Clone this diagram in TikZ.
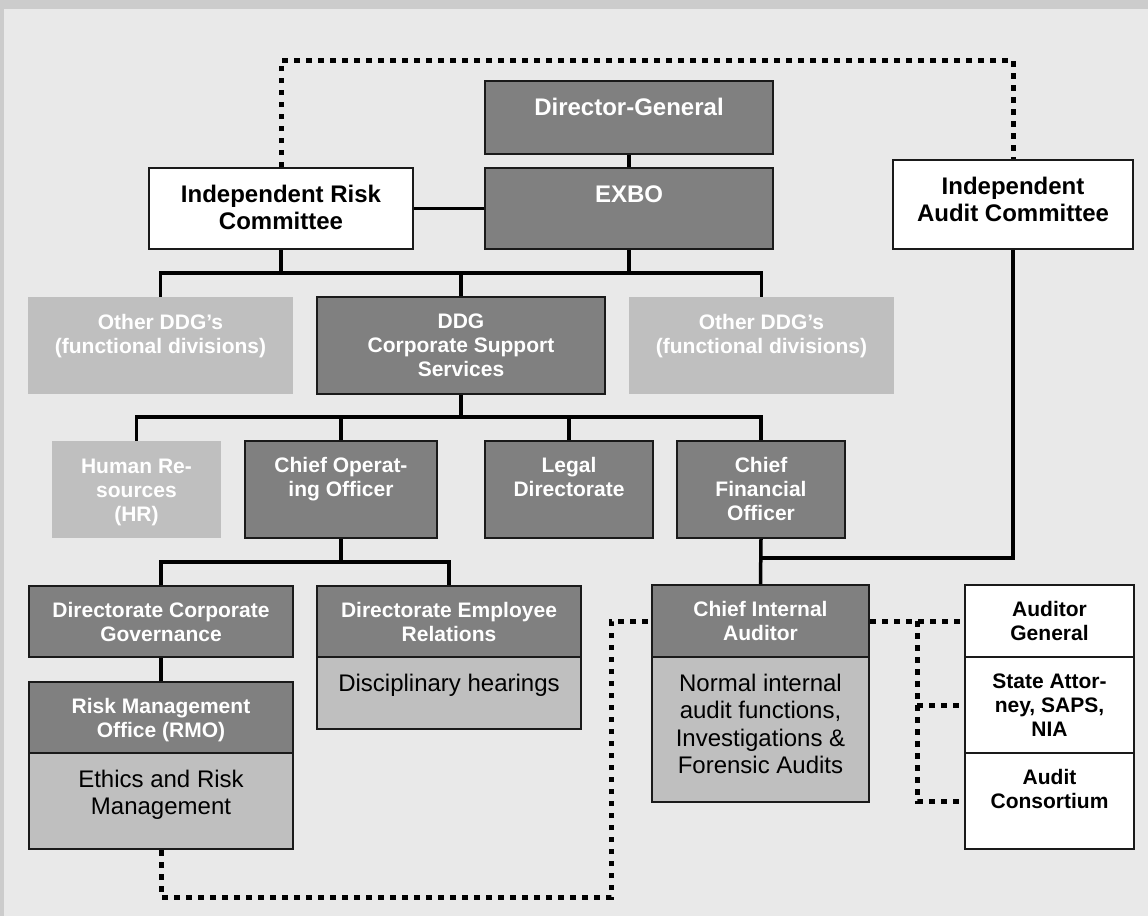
\documentclass[tikz,border=0pt]{standalone}
\usepackage{fontspec}
\setmainfont{Liberation Sans}
\definecolor{cBand}{HTML}{CCCCCC}
\definecolor{cPanel}{HTML}{E9E9E9}
\definecolor{cDark}{HTML}{808080}
\definecolor{cPale}{HTML}{BFBFBF}
\definecolor{cEdge}{HTML}{1A1A1A}
% strut that fixes the height of the first text line to one em
\newcommand\fl{\rule{0pt}{1em}}
% box from its corners: style, x1, y1, x2, y2, name
\newcommand\mkbox[6]{\node[#1, minimum width={#4pt-#2pt}, minimum height={#5pt-#3pt}] (#6) at ({(#2+#4)/2},{(#3+#5)/2}) {};}
% text set from the top of a box: style, box name, lines
\newcommand\mktext[3]{\node[#1, anchor=north] (#2-t) at ([yshift=-11pt]#2.north) {\fl #3};}
\begin{document}
\begin{tikzpicture}[
  x=1pt, y=-1pt,
  every node/.style={inner sep=0pt},
  darkbox/.style={rectangle, draw=cEdge, line width=2pt, fill=cDark},
  palebox/.style={rectangle, draw=cEdge, line width=2pt, fill=cPale},
  ghostbox/.style={rectangle, fill=cPale},
  whitebox/.style={rectangle, draw=cEdge, line width=2pt, fill=white},
  hd/.style={align=center, text=white, font=\bfseries\fontsize{21}{24}\selectfont},
  hdk/.style={align=center, text=black, font=\bfseries\fontsize{21}{24}\selectfont},
  big/.style={align=center, text=black, font=\bfseries\fontsize{24}{27}\selectfont},
  bigw/.style={align=center, text=white, font=\bfseries\fontsize{24}{27}\selectfont},
  body/.style={align=center, text=black, font=\fontsize{24}{27.5}\selectfont},
  solidlink/.style={draw=black, line width=3.5pt},
  dotlink/.style={draw=black, line width=5pt, dash pattern=on 5.5pt off 6.5pt},
]
% background band and panel
\fill[cBand] (0,0) rectangle (1148,916);
\fill[cPanel] (4,9) rectangle (1148,916);
\useasboundingbox (0,0) rectangle (1148,916);

% boxes
\mkbox{darkbox}{485}{81}{773}{154}{dg}
\mkbox{darkbox}{485}{168}{773}{249}{exbo}
\mkbox{whitebox}{149}{168}{413}{249}{irc}
\mkbox{whitebox}{893}{160}{1133}{249}{iac}
\mkbox{ghostbox}{28}{297}{293}{394}{odl}
\mkbox{darkbox}{317}{297}{605}{394}{ddg}
\mkbox{ghostbox}{629}{297}{894}{394}{odr}
\mkbox{ghostbox}{52}{441}{221}{538}{hr}
\mkbox{darkbox}{245}{441}{437}{538}{coo}
\mkbox{darkbox}{485}{441}{653}{538}{leg}
\mkbox{darkbox}{677}{441}{845}{538}{cfo}
\mkbox{darkbox}{29}{586}{293}{657}{dcg}
\mkbox{darkbox}{317}{586}{581}{657}{der}
\mkbox{palebox}{317}{657}{581}{729}{derb}
\mkbox{darkbox}{29}{682}{293}{753}{rmo}
\mkbox{palebox}{29}{753}{293}{849}{rmob}
\mkbox{darkbox}{652}{585}{869}{657}{cia}
\mkbox{palebox}{652}{657}{869}{802}{ciab}
\mkbox{whitebox}{965}{585}{1134}{657}{ag}
\mkbox{whitebox}{965}{657}{1134}{753}{sa}
\mkbox{whitebox}{965}{753}{1134}{849}{ac}

% texts
\mktext{bigw}{dg}{Director-General}
\mktext{bigw}{exbo}{EXBO}
\mktext{big}{irc}{Independent Risk\\Committee}
\mktext{big}{iac}{Independent\\Audit Committee}
\mktext{hd}{odl}{Other DDG’s\\(functional divisions)}
\mktext{hd}{ddg}{DDG\\Corporate Support\\Services}
\mktext{hd}{odr}{Other DDG’s\\(functional divisions)}
\mktext{hd}{hr}{Human Re-\\sources\\(HR)}
\mktext{hd}{coo}{Chief Operat-\\ing Officer}
\mktext{hd}{leg}{Legal\\Directorate}
\mktext{hd}{cfo}{Chief\\Financial\\Officer}
\mktext{hd}{dcg}{Directorate Corporate\\Governance}
\mktext{hd}{der}{Directorate Employee\\Relations}
\mktext{body}{derb}{Disciplinary hearings}
\mktext{hd}{rmo}{Risk Management\\Office (RMO)}
\mktext{body}{rmob}{Ethics and Risk\\Management}
\mktext{hd}{cia}{Chief Internal\\Auditor}
\mktext{body}{ciab}{Normal internal\\audit functions,\\Investigations \&\\Forensic Audits}
\mktext{hdk}{ag}{Auditor\\General}
\mktext{hdk}{sa}{State Attor-\\ney, SAPS,\\NIA}
\mktext{hdk}{ac}{Audit\\Consortium}

% levels of the reporting buses
\coordinate (bus1) at (0,273);
\coordinate (bus2) at (0,417);
\coordinate (bus3) at (0,562);
\coordinate (auditbus) at (0,558);
\coordinate (topline) at (0,60);
\coordinate (loop) at (611,897);
\coordinate (split) at (917,0);

% solid reporting lines
\draw[solidlink] (dg.south) -- (exbo.north);
\draw[solidlink, line width=3pt] (irc.east) -- (exbo.west);
\draw[solidlink] (odl.north) |- (odr.north |- bus1) -- (odr.north);
\draw[solidlink] (exbo.south) -- (exbo.south |- bus1);
\draw[solidlink] (irc.south) -- (irc.south |- bus1);
\draw[solidlink] (ddg.north) -- (ddg.north |- bus1);
\draw[solidlink] (hr.north) |- (cfo.north |- bus2) -- (cfo.north);
\draw[solidlink] (ddg.south) -- (ddg.south |- bus2);
\draw[solidlink] (coo.north) -- (coo.north |- bus2);
\draw[solidlink] (leg.north) -- (leg.north |- bus2);
\draw[solidlink] (dcg.north) |- (der.north |- bus3) -- (der.north);
\draw[solidlink] (coo.south) -- (coo.south |- bus3);
\draw[solidlink] (dcg.south) -- (rmo.north);
\draw[solidlink] (cfo.south) -- (cia.north);
\draw[solidlink] (iac.south) |- (cia.north |- auditbus);

% dotted lines
\draw[dotlink] (irc.north) -- (irc.north |- topline) -| (iac.north);
\draw[dotlink] (rmob.south) |- (loop) |- (cia.west);
\draw[dotlink] (cia.east) -- (ag.west);
\draw[dotlink] (cia.east -| split) |- (ac.west);
\draw[dotlink] (sa.west -| split) -- (sa.west);
\end{tikzpicture}
\end{document}
